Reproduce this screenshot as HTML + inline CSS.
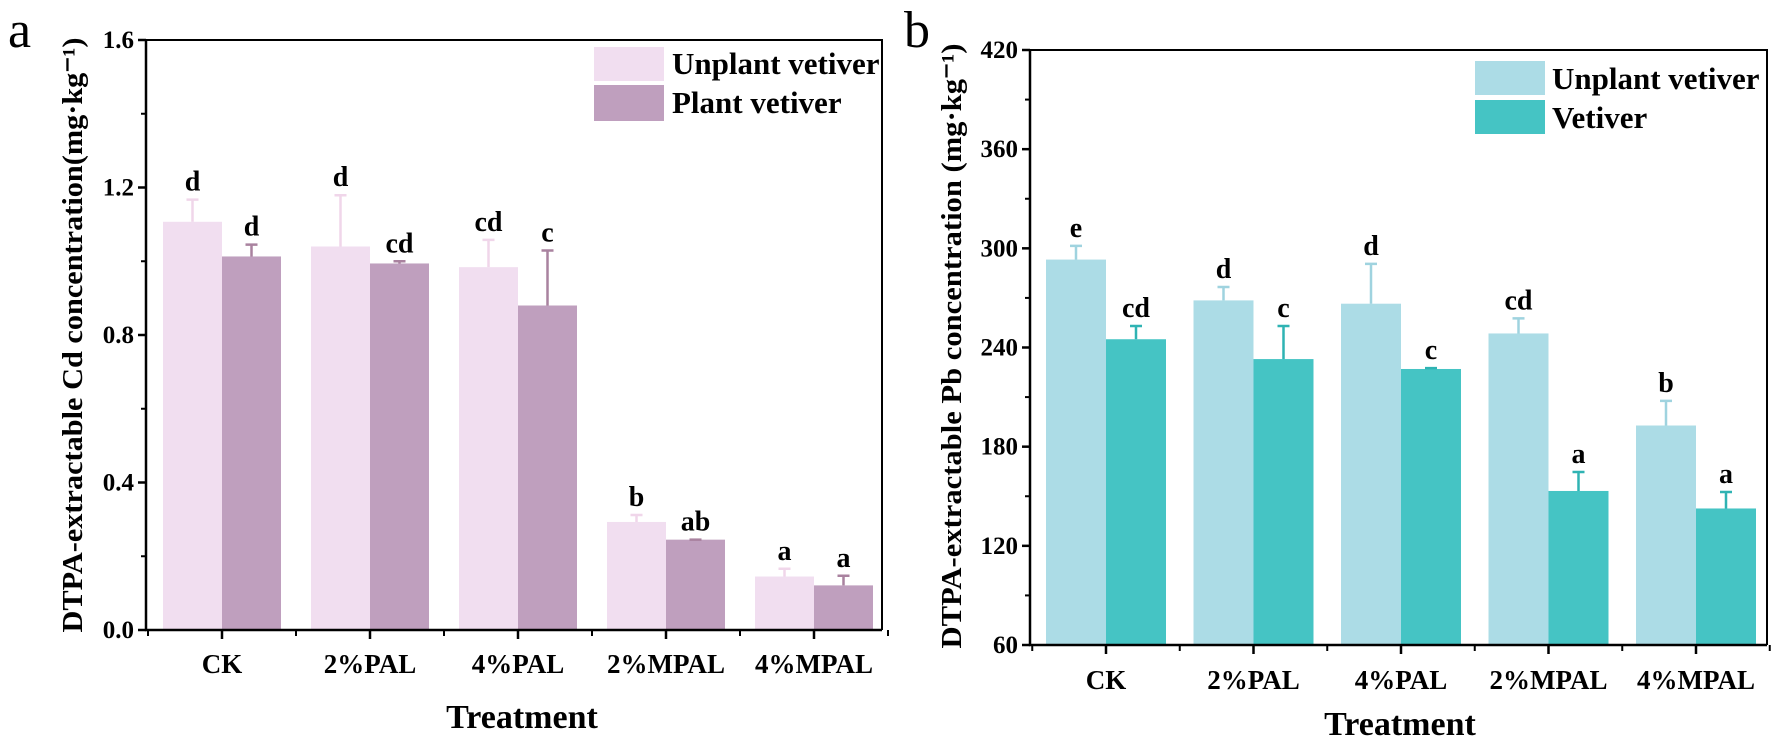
<!DOCTYPE html>
<html><head><meta charset="utf-8"><style>
html,body{margin:0;padding:0;background:#fff;}
svg{display:block;font-family:"Liberation Serif",serif;}
</style></head><body>
<svg id="chart" width="1772" height="739" viewBox="0 0 1772 739" xmlns="http://www.w3.org/2000/svg">
<g id="pa"></g>
<g id="pb"></g>
</svg>
<script>
const categories = ["CK","2%PAL","4%PAL","2%MPAL","4%MPAL"];
const cdUnplant = [1.107,1.04,0.984,0.293,0.145];
const cdUnplantErr = [0.06,0.139,0.074,0.019,0.021];
const cdPlant = [1.013,0.994,0.88,0.245,0.121];
const cdPlantErr = [0.032,0.006,0.149,0.0,0.026];
const cdUnplantLetters = ["d","d","cd","b","a"];
const cdPlantLetters = ["d","cd","c","ab","a"];
const cdTicks = [0.0,0.4,0.8,1.2,1.6];
const pbUnplant = [293.2,268.5,266.5,248.5,192.8];
const pbUnplantErr = [8.3,8.1,24.1,9.1,14.9];
const pbVet = [245,233,227,153.2,142.6];
const pbVetErr = [8,20,0.5,11.5,10];
const pbUnplantLetters = ["e","d","d","cd","b"];
const pbVetLetters = ["cd","c","c","a","a"];
const pbTicks = [60,120,180,240,300,360,420];

const NS="http://www.w3.org/2000/svg";
function mk(parent,tag,attrs,text){const e=document.createElementNS(NS,tag);for(const k in attrs)e.setAttribute(k,attrs[k]);if(text!==undefined)e.textContent=text;parent.appendChild(e);return e;}

function panel(g,cfg){
  const yScale=v=>cfg.y0-(v-cfg.vmin)/(cfg.vmax-cfg.vmin)*(cfg.y0-cfg.y1);
  const xC=i=>cfg.xc0+i*cfg.step;
  const bw=cfg.bw;
  cfg.s1.forEach((v,i)=>{
    const r=mk(g,'rect',{x:xC(i)-bw,y:yScale(v),width:bw,height:cfg.y0-yScale(v),fill:cfg.c1});
    
    
    const r2=mk(g,'rect',{x:xC(i),y:yScale(cfg.s2[i]),width:bw,height:cfg.y0-yScale(cfg.s2[i]),fill:cfg.c2});
    
    
    [[cfg.s1,cfg.e1,cfg.l1,xC(i)-bw/2,cfg.ec1],[cfg.s2,cfg.e2,cfg.l2,xC(i)+bw/2,cfg.ec2]].forEach(([s,e,l,cx,ec])=>{
      const top=yScale(s[i]+e[i]);
      const eb=mk(g,'path',{d:`M${cx} ${yScale(s[i])}V${top}M${cx-6} ${top}H${cx+6}`,stroke:ec,'stroke-width':2.5,fill:'none'});
      
      
      const t=mk(g,'text',{x:cx,y:top-9,'text-anchor':'middle','font-size':28,'font-weight':'bold'},l[i]);
      
      
    });
  });
  const ax=mk(g,'path',{d:`M${cfg.ax} ${cfg.y1}V${cfg.y0}H${cfg.axR}`,stroke:'#000','stroke-width':2.5,fill:'none'});
  
  
  const rl=mk(g,'path',{d:`M${cfg.ax} ${cfg.y1}H${cfg.axR}V${cfg.y0}`,stroke:'#000','stroke-width':2,fill:'none'});
  
  
  cfg.ticks.forEach((v,i)=>{
    const y=yScale(v);
    mk(g,'path',{d:`M${cfg.ax-8} ${y}H${cfg.ax}`,stroke:'#000','stroke-width':2.5});
    if(i<cfg.ticks.length-1){const ym=yScale((v+cfg.ticks[i+1])/2);mk(g,'path',{d:`M${cfg.ax-5} ${ym}H${cfg.ax}`,stroke:'#000','stroke-width':2});}
    const t=mk(g,'text',{x:cfg.ax-12,y:y+8,'text-anchor':'end','font-size':25,'font-weight':'bold'},cfg.fmt(v));
    
    
  });
  categories.forEach((c,i)=>{
    const x=xC(i);
    mk(g,'path',{d:`M${x} ${cfg.y0}V${cfg.y0+9}`,stroke:'#000','stroke-width':2.5});
    mk(g,'path',{d:`M${x+cfg.step/2} ${cfg.y0}V${cfg.y0+6}`,stroke:'#000','stroke-width':2});
    const t=mk(g,'text',{x:x,y:cfg.xlY,'text-anchor':'middle','font-size':27,'font-weight':'bold'},c);
    
    
  });
  mk(g,'path',{d:`M${xC(0)-cfg.step/2} ${cfg.y0}V${cfg.y0+6}`,stroke:'#000','stroke-width':2});
}

const pa=document.getElementById('pa');
panel(pa,{vmin:0,vmax:1.6,y0:630,y1:40,xc0:222,step:148,bw:59,ax:146,axR:882,
  s1:cdUnplant,e1:cdUnplantErr,s2:cdPlant,e2:cdPlantErr,l1:cdUnplantLetters,l2:cdPlantLetters,
  c1:'#f1def0',c2:'#bf9fbe',ec1:'#f0d6ea',ec2:'#a9829f',n1:'unplant',n2:'plant',ticks:cdTicks,fmt:v=>v.toFixed(1),xlY:673});
const pb=document.getElementById('pb');
panel(pb,{vmin:60,vmax:420,y0:645,y1:50,xc0:1106,step:147.5,bw:60,ax:1030,axR:1767,
  s1:pbUnplant,e1:pbUnplantErr,s2:pbVet,e2:pbVetErr,l1:pbUnplantLetters,l2:pbVetLetters,
  c1:'#acdce6',c2:'#45c4c4',ec1:'#9fd3df',ec2:'#2fb3b3',n1:'unplant',n2:'vetiver',ticks:pbTicks,fmt:v=>String(v),xlY:689});
</script>
<script>
const s=document.getElementById('chart');
function T(attrs,txt){const e=document.createElementNS("http://www.w3.org/2000/svg",'text');for(const k in attrs)e.setAttribute(k,attrs[k]);e.textContent=txt;s.appendChild(e);return e;}
let e;
e=T({x:8,y:47,'font-size':52},'a');


e=T({x:904,y:47,'font-size':52},'b');


e=T({x:0,y:0,'font-size':29,'font-weight':'bold','text-anchor':'middle',transform:'translate(82,335) rotate(-90)',textLength:595,lengthAdjust:'spacingAndGlyphs'},'DTPA-extractable Cd concentration(mg·kg⁻¹)');


e=T({x:0,y:0,'font-size':29,'font-weight':'bold','text-anchor':'middle',transform:'translate(961,346) rotate(-90)',textLength:605,lengthAdjust:'spacingAndGlyphs'},'DTPA-extractable Pb concentration (mg·kg⁻¹)');


e=T({x:522,y:728,'font-size':34,'font-weight':'bold','text-anchor':'middle'},'Treatment');


e=T({x:1400,y:735,'font-size':34,'font-weight':'bold','text-anchor':'middle'},'Treatment');


function R(x,y,w,h,f){const r=document.createElementNS("http://www.w3.org/2000/svg",'rect');r.setAttribute('x',x);r.setAttribute('y',y);r.setAttribute('width',w);r.setAttribute('height',h);r.setAttribute('fill',f);s.appendChild(r);return r;}
e=R(594,47,70,34,'#f1def0');


e=R(594,85,70,36,'#bf9fbe');


e=T({x:672,y:74,'font-size':31,'font-weight':'bold'},'Unplant vetiver');


e=T({x:672,y:113,'font-size':31,'font-weight':'bold'},'Plant vetiver');


e=R(1475,61,70,34,'#acdce6');


e=R(1475,100,70,34,'#45c4c4');


e=T({x:1552,y:89,'font-size':31,'font-weight':'bold'},'Unplant vetiver');


e=T({x:1552,y:128,'font-size':31,'font-weight':'bold'},'Vetiver');


</script>
</body></html>
